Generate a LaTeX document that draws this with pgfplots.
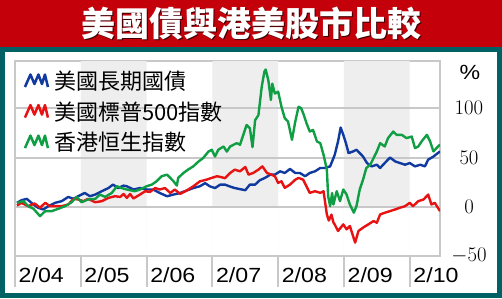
\documentclass[border=0pt]{standalone}
\usepackage{fontspec}
\usepackage{pgfplots}
\pgfplotsset{compat=1.18}
\setmainfont{Liberation Sans}
\newfontfamily\cjk{Noto Sans CJK TC}
\newfontfamily\tickfont{Liberation Sans}[FakeStretch=1.13]
\definecolor{cblue}{RGB}{16,58,160}
\definecolor{cred}{RGB}{232,18,18}
\definecolor{cgreen}{RGB}{16,158,68}
\definecolor{gridc}{RGB}{200,200,200}
\definecolor{bandc}{RGB}{238,238,238}
\definecolor{hdr}{RGB}{196,0,10}
\definecolor{tealc}{RGB}{0,98,100}

\pgfplotstableread{
x y
0.03 4
0.10 6.7
0.18 8
0.25 4
0.35 -1
0.43 -2.7
0.51 0.6
0.61 4
0.71 5.7
0.81 10
0.89 8
0.96 10.7
1.06 14
1.14 10.7
1.22 12.4
1.32 15.8
1.42 19
1.49 22.5
1.57 19
1.65 21.5
1.70 20.8
1.80 17.5
1.90 19
2.00 17.5
2.10 17.5
2.20 14
2.31 10.7
2.41 12.4
2.51 14
2.61 16.5
2.71 19
2.81 20.8
2.89 24
2.96 20.8
3.04 19
3.12 22.5
3.19 22.5
3.27 20.5
3.34 19
3.50 16.8
3.57 22.5
3.65 22.5
3.72 26.9
3.80 29.3
3.88 32.6
3.95 32.6
4.03 36
4.10 34.3
4.18 38.4
4.26 34.3
4.33 34.3
4.41 31
4.48 34.3
4.56 36
4.64 39.4
4.71 39.4
4.79 41
4.86 52.8
4.91 66.3
4.95 80.4
4.99 73
5.03 64.6
5.07 54.5
5.14 56.2
5.19 57.9
5.24 54.5
5.29 51
5.35 44.4
5.42 41
5.50 42.7
5.55 39.4
5.62 44.4
5.70 50
5.78 46
5.85 44.4
5.93 42.7
6.00 44.4
6.08 41
6.16 42.7
6.23 41
6.28 47.8
6.36 51
6.46 56.2
}\bondtab

\pgfplotstableread{
x y
0.03 1.3
0.10 4
0.20 0.6
0.30 3.3
0.38 -1
0.46 4
0.53 0.6
0.61 0.6
0.71 0.6
0.81 2.3
0.89 8
0.96 7.4
1.04 5.7
1.11 8
1.22 4.6
1.32 5.7
1.42 9
1.52 10.7
1.60 10
1.65 13
1.70 9
1.75 13
1.80 8.4
1.90 12.4
1.98 15.8
2.05 15
2.13 19
2.20 17.5
2.28 19
2.36 14
2.43 17.5
2.51 13
2.61 16.5
2.71 20.8
2.81 25.8
2.91 27.5
2.99 29.3
3.07 31
3.14 30
3.19 29
3.27 34.3
3.34 37.7
3.42 36
3.50 40.4
3.55 32.6
3.62 34.3
3.70 37.7
3.76 41
3.83 34.3
3.90 32.6
3.95 31
4.00 24.2
4.05 25.9
4.10 19.2
4.18 22.5
4.26 27.5
4.31 29.3
4.38 27.5
4.43 20.8
4.48 14.1
4.56 15.8
4.64 14.1
4.69 15.8
4.74 -7.8
4.77 -14
4.81 -8
4.84 -16
4.86 -18
4.91 -24.6
4.99 -17.9
5.04 -22.9
5.09 -19.6
5.17 -36.4
5.22 -24.6
5.29 -21.2
5.37 -17.9
5.45 -14.5
5.50 -16.2
5.55 -7.8
5.62 -6.1
5.70 -4.4
5.78 -2.7
5.85 -1
5.93 0.6
6.00 4
6.05 0.6
6.13 5.7
6.21 7.4
6.28 12.4
6.33 2.3
6.38 4
6.46 -4.4
}\spxtab

\pgfplotstableread{
x y
0.03 4
0.13 5.7
0.20 0.6
0.28 -2
0.38 -9.5
0.46 -4.4
0.56 -4.4
0.66 -2
0.76 0.6
0.86 4.6
0.94 10
1.01 4.6
1.11 7.4
1.22 8
1.29 12.4
1.37 10
1.47 14
1.55 20.8
1.62 19
1.70 17.5
1.82 15.8
1.90 17.5
2.00 20.8
2.08 22.5
2.15 25.8
2.23 31
2.31 32.6
2.36 29.3
2.41 25.8
2.46 21.5
2.48 29.3
2.56 34.3
2.63 37.7
2.71 41
2.79 46
2.86 49.5
2.94 56
2.99 57.9
3.04 51
3.09 57.9
3.17 61.2
3.22 56
3.27 61.2
3.37 64.6
3.42 63
3.52 83
3.57 79.8
3.61 60.6
3.65 88
3.70 93
3.75 121.8
3.79 137
3.81 139.4
3.85 128.6
3.89 108.4
3.91 125
3.95 115
4.00 116.8
4.05 101.6
4.10 90
4.15 86.5
4.21 68
4.26 86.5
4.31 101.6
4.35 100
4.38 95
4.43 85
4.48 76.4
4.53 78
4.59 66.3
4.64 64.6
4.69 52.8
4.74 37.7
4.76 10.7
4.79 0.6
4.82 14
4.84 2.3
4.89 15.8
4.94 5.7
4.99 17.5
5.04 12.4
5.09 2.3
5.15 -6
5.19 0.6
5.24 17.5
5.29 27.5
5.34 39.4
5.40 42.7
5.50 56.2
5.55 64.6
5.62 61.2
5.67 69.7
5.75 76.4
5.80 73
5.88 73
5.95 69.7
6.03 71.3
6.08 59.6
6.13 61.2
6.18 66.3
6.26 73
6.31 66.3
6.36 56.2
6.43 61.2
6.46 63
}\hsitab

\begin{document}
\begin{tikzpicture}
\fill[hdr] (0pt,251pt) rectangle (502pt,298pt);
\fill[tealc] (0pt,0pt) rectangle (502pt,251pt);
\fill[white] (5pt,5pt) rectangle (497pt,246pt);
\node[font=\cjk\bfseries\fontsize{34}{34}\selectfont, text=black!70!hdr] at (252pt,273pt) {美國債與港美股市比較};
\node[font=\cjk\bfseries\fontsize{34}{34}\selectfont, text=white] at (251pt,274pt) {美國債與港美股市比較};
\node[font=\tickfont\fontsize{20.5}{20}\selectfont, inner sep=0pt] at (470pt,226pt) {\%};
\begin{axis}[
  at={(15pt,42pt)}, anchor=south west,
  width=425pt, height=195pt, scale only axis,
  xmin=0, xmax=6.46, ymin=-50, ymax=148,
  axis line style={draw=gridc, line width=2pt},
  xtick={0,1,2,3,4,5,6},
  xticklabels={2/04,2/05,2/06,2/07,2/08,2/09,2/10},
  xtick pos=lower,
  tick align=outside,
  major tick length=31pt,
  x tick style={draw=gridc, line width=2pt},
  xticklabel style={anchor=west, inner sep=0pt, xshift=3.5pt, yshift=12pt, font=\tickfont\fontsize{20.5}{20}\selectfont},
  ytick={-50,0,50,100},
  ytick pos=right,
  y tick style={draw=none},
  yticklabel style={anchor=center, inner sep=0pt, xshift=-2pt, font=\tickfont\fontsize{20.5}{20}\selectfont},
  legend style={at={(0.02,0.955)}, anchor=north west, draw=none, fill=none,
    font=\cjk\fontsize{22}{22}\selectfont, row sep=8.5pt, column sep=4pt, inner sep=0pt,
    nodes={inner sep=1pt}},
  legend cell align=left,
  legend image code/.code={\draw[#1, line width=2.5pt, line join=round] (0pt,-6pt) -- (5.5pt,6.5pt) -- (9.5pt,-3pt) -- (13.5pt,6.5pt) -- (17pt,-3pt) -- (20pt,6.5pt) -- (23pt,-6pt);},
]
\addplot[fill=bandc, draw=none, forget plot] coordinates {(1,-50) (1,148) (2,148) (2,-50)} \closedcycle;
\addplot[fill=bandc, draw=none, forget plot] coordinates {(3,-50) (3,148) (4,148) (4,-50)} \closedcycle;
\addplot[fill=bandc, draw=none, forget plot] coordinates {(5,-50) (5,148) (6,148) (6,-50)} \closedcycle;
\addplot[gridc, line width=2pt, forget plot] coordinates {(0,0) (6.46,0)};
\addplot[gridc, line width=2pt, forget plot] coordinates {(0,50) (6.46,50)};
\addplot[gridc, line width=2pt, forget plot] coordinates {(0,100) (6.46,100)};
\addplot[cblue, line width=2.4pt, line join=round, no markers] table[x=x,y=y] {\bondtab};
\addplot[cred, line width=2.4pt, line join=round, no markers] table[x=x,y=y] {\spxtab};
\addplot[cgreen, line width=2.4pt, line join=round, no markers] table[x=x,y=y] {\hsitab};
\legend{美國長期國債,美國標普500指數,香港恒生指數}
\end{axis}
\pgfresetboundingbox
\path[use as bounding box] (0pt,0pt) rectangle (502pt,298pt);
\end{tikzpicture}
\end{document}
